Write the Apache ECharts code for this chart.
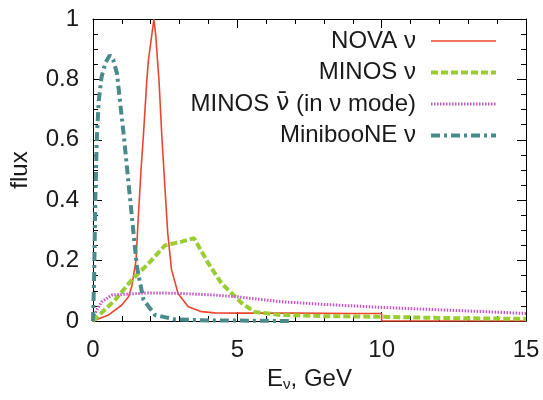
<!DOCTYPE html>
<html><head><meta charset="utf-8">
<script src="https://cdn.jsdelivr.net/npm/echarts@6/dist/echarts.min.js"></script>
<style>html,body{margin:0;padding:0;background:#fff}#c{width:543px;height:400px}</style>
</head><body><div id="c"></div>
<script>
var xTicks = [0, 5, 10, 15];
var yTicks = [0, 0.2, 0.4, 0.6, 0.8, 1];
var seriesNames = ['NOVA ν', 'MINOS ν', 'MINOS ν\u0304 (in ν mode)', 'MinibooNE ν'];

var novaE = [0, 0.54, 1.0, 1.23, 1.34, 1.49, 1.57, 1.67, 1.75, 1.86, 1.92, 2.11, 2.17, 2.29, 2.38, 2.49, 2.59, 2.72, 2.95, 3.3, 3.76, 4.22, 5, 7, 9, 10, 10, 15];
var novaF = [0, 0.02, 0.053, 0.08, 0.114, 0.2, 0.345, 0.51, 0.62, 0.79, 0.864, 1.0, 0.95, 0.79, 0.62, 0.445, 0.29, 0.17, 0.09, 0.047, 0.031, 0.027, 0.026, 0.026, 0.025, 0.025, 0, 0];

var minosE = [0, 0.77, 1.34, 1.92, 2.49, 3.07, 3.5, 4.0, 4.45, 5.14, 5.6, 6.5, 8, 10, 12, 15];
var minosF = [0, 0.07, 0.136, 0.19, 0.25, 0.263, 0.274, 0.19, 0.125, 0.06, 0.03, 0.02, 0.016, 0.014, 0.01, 0.007];

var minosBarE = [0, 0.15, 0.31, 0.66, 1.34, 1.92, 2.84, 4.2, 5.0, 6.5, 8, 10, 12.3, 15];
var minosBarF = [0.01, 0.04, 0.064, 0.086, 0.09, 0.093, 0.092, 0.086, 0.08, 0.064, 0.055, 0.045, 0.036, 0.025];

var boonE = [0, 0.04, 0.08, 0.13, 0.2, 0.3, 0.43, 0.58, 0.7, 0.83, 1.06, 1.29, 1.52, 1.75, 2.15, 2.84, 4, 5.5, 6.8];
var boonF = [0, 0.15, 0.4, 0.6, 0.73, 0.81, 0.855, 0.88, 0.865, 0.82, 0.62, 0.4, 0.18, 0.07, 0.02, 0.005, 0.002, 0.001, 0];

function pairs(a, b) { return a.map(function (v, i) { return [v, b[i]]; }); }

var FONT = 'Liberation Sans, Arial, sans-serif';
var TXT = '#1a1a1a';
var FS = 24;
var chart = echarts.init(document.getElementById('c'), null, { renderer: 'canvas' });

function axisCommon(extra) {
  var o = {
    type: 'value',
    axisLine: { show: true, onZero: false, lineStyle: { color: '#000', width: 1 } },
    axisTick: { show: true, inside: true, length: 9, lineStyle: { color: '#000', width: 1 } },
    splitLine: { show: false },
    minorSplitLine: { show: false }
  };
  for (var k in extra) o[k] = extra[k];
  return o;
}

var option = {
  animation: false,
  backgroundColor: '#fff',
  grid: { left: 91, right: 17, top: 19, bottom: 79, containLabel: false },
  xAxis: [
    axisCommon({
      min: xTicks[0], max: xTicks[xTicks.length - 1], interval: 5, position: 'bottom',
      minorTick: { show: true, splitNumber: 5, length: 5, lineStyle: { color: '#000', width: 1 } },
      axisLabel: { show: true, margin: 17, fontSize: FS, color: TXT, fontFamily: FONT },
      name: 'E{s|ν}, GeV', nameLocation: 'middle', nameGap: 44,
      nameTextStyle: { fontSize: FS, color: TXT, fontFamily: FONT, rich: { s: { fontSize: 15, color: TXT, fontFamily: FONT, verticalAlign: 'bottom', padding: [12, 0, 0, 0] } } }
    }),
    axisCommon({
      min: xTicks[0], max: xTicks[xTicks.length - 1], interval: 5, position: 'top',
      minorTick: { show: true, splitNumber: 5, length: 5, lineStyle: { color: '#000', width: 1 } },
      axisLabel: { show: false }
    })
  ],
  yAxis: [
    axisCommon({
      min: yTicks[0], max: yTicks[yTicks.length - 1], interval: 0.2, position: 'left',
      minorTick: { show: true, splitNumber: 4, length: 5, lineStyle: { color: '#000', width: 1 } },
      axisLabel: { show: true, margin: 14, fontSize: FS, color: TXT, fontFamily: FONT },
      name: 'flux', nameLocation: 'middle', nameGap: 61, nameRotate: 90,
      nameTextStyle: { fontSize: FS, color: TXT, fontFamily: FONT }
    }),
    axisCommon({
      min: yTicks[0], max: yTicks[yTicks.length - 1], interval: 0.2, position: 'right',
      minorTick: { show: true, splitNumber: 4, length: 5, lineStyle: { color: '#000', width: 1 } },
      axisLabel: { show: false }
    })
  ],
  legend: {
    show: true, orient: 'vertical', align: 'right', right: 40, top: 24,
    itemWidth: 65, itemHeight: 20, itemGap: 7.5,
    selectedMode: false,
    textStyle: { fontSize: FS, color: TXT, fontFamily: FONT, lineHeight: 20, padding: [0, 10, 0, 0],
      rich: { b: { fontSize: FS, color: TXT, fontFamily: 'DejaVu Sans', lineHeight: 20 } } },
    lineStyle: { width: 'inherit' },
    itemStyle: { opacity: 0 },
    formatter: function (n) { return n === seriesNames[2] ? 'MINOS {b|ν\u0304} (in ν mode)' : n; },
    data: seriesNames
  },
  series: [
    { name: seriesNames[0], type: 'line', data: pairs(novaE, novaF), showSymbol: false, symbol: 'none',
      lineStyle: { color: '#e8472e', width: 1.6, type: 'solid' }, itemStyle: { color: '#e8472e' } },
    { name: seriesNames[1], type: 'line', data: pairs(minosE, minosF), showSymbol: false, symbol: 'none',
      lineStyle: { color: '#9acd32', width: 4, type: [7, 3] }, itemStyle: { color: '#9acd32' } },
    { name: seriesNames[2], type: 'line', data: pairs(minosBarE, minosBarF), showSymbol: false, symbol: 'none',
      lineStyle: { color: '#c456c4', width: 3, type: [1.5, 1.5] }, itemStyle: { color: '#c456c4' } },
    { name: seriesNames[3], type: 'line', data: pairs(boonE, boonF), showSymbol: false, symbol: 'none',
      lineStyle: { color: '#4a8a8a', width: 4, type: [9, 4, 3, 4] }, itemStyle: { color: '#4a8a8a' } }
  ]
};
chart.setOption(option);
</script>
</body></html>
